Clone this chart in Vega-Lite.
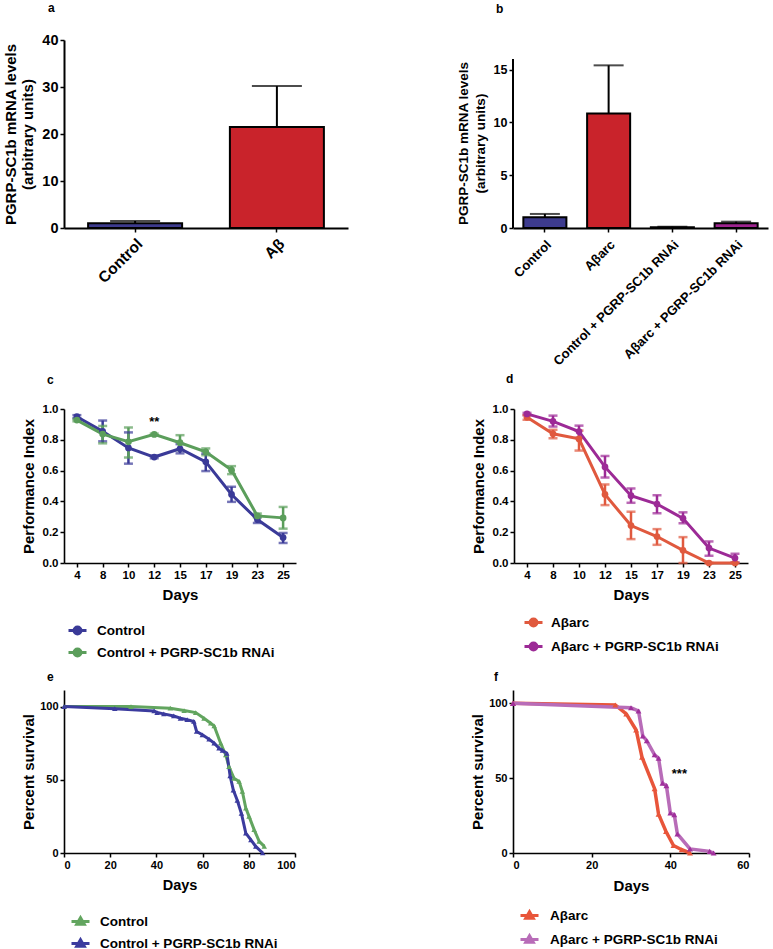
{
  "$schema": "https://vega.github.io/schema/vega-lite/v6.json",
  "autosize": {"type": "none"},
  "padding": {"left": 64, "top": 40, "right": 709, "bottom": 909},
  "background": "white",
  "config": {
    "view": {"stroke": null},
    "font": "Liberation Sans",
    "axis": {"domainColor": "#000", "domainWidth": 1.6, "tickColor": "#000", "tickWidth": 1.5, "tickSize": 4, "labelColor": "#000", "labelFont": "Liberation Sans", "labelFontWeight": "bold", "labelPadding": 2, "labelOverlap": false, "labelBound": false, "titleColor": "#000", "titleFont": "Liberation Sans", "titleFontWeight": "bold", "grid": false},
    "title": {"font": "Liberation Sans", "fontWeight": "bold", "fontSize": 12, "anchor": "start", "frame": "group", "color": "#000"}
  },
  "bounds": "flush",
  "spacing": 369,
  "resolve": {"scale": {"color": "independent", "stroke": "independent", "fill": "independent"}, "legend": {"color": "independent", "stroke": "independent", "fill": "independent"}},
  "vconcat": [
    {
      "hconcat": [
        {
          "width": 284, "height": 188,
          "title": {"text": "a", "dx": -16, "offset": 17},
          "data": {"values": [
            {"group": "Control", "mean": 1.0, "upper": 1.5},
            {"group": "Aβ", "mean": 21.5, "upper": 30.2}
          ]},
          "layer": [
            {"mark": {"type": "bar", "stroke": "#000", "strokeWidth": 2},
             "encoding": {
               "x": {"field": "group", "type": "nominal", "sort": null, "title": null, "scale": {"domain": ["Control", "Aβ"], "paddingInner": 0.337, "paddingOuter": 0.17}, "axis": {"labelAngle": -45, "labelFontSize": 15.5, "labelPadding": 4, "domainWidth": 2}},
               "y": {"field": "mean", "type": "quantitative", "scale": {"domain": [0, 40], "nice": false}, "axis": {"values": [0, 10, 20, 30, 40], "tickCount": 10, "title": ["PGRP-SC1b mRNA levels", "(arbitrary units)"], "titleFontSize": 15, "titleLineHeight": 17, "titlePadding": 6, "labelFontSize": 14.5, "domainWidth": 2}},
               "color": {"field": "group", "type": "nominal", "scale": {"domain": ["Control", "Aβ"], "range": ["#3d3b8e", "#c9232b"]}, "legend": null}}},
            {"mark": {"type": "rule", "stroke": "#000", "strokeWidth": 2},
             "encoding": {"x": {"field": "group", "type": "nominal"}, "y": {"field": "mean", "type": "quantitative"}, "y2": {"field": "upper"}}},
            {"mark": {"type": "tick", "color": "#000", "size": 50, "thickness": 2},
             "encoding": {"x": {"field": "group", "type": "nominal"}, "y": {"field": "upper", "type": "quantitative"}}}
          ]
        },
        {
          "width": 255, "height": 188,
          "title": {"text": "b", "dx": -17, "offset": 24},
          "data": {"values": [
            {"group": "Control", "mean": 1.01, "upper": 1.33},
            {"group": "Aβarc", "mean": 10.83, "upper": 15.4},
            {"group": "Control + PGRP-SC1b RNAi", "mean": 0.08, "upper": 0.12},
            {"group": "Aβarc + PGRP-SC1b RNAi", "mean": 0.45, "upper": 0.6}
          ]},
          "resolve": {"scale": {"x": "independent"}, "axis": {"x": "independent"}},
          "layer": [
            {"mark": {"type": "bar", "stroke": "#000", "strokeWidth": 2},
             "encoding": {
               "x": {"field": "group", "type": "nominal", "title": null, "scale": {"domain": ["Control", "Aβarc", "Control + PGRP-SC1b RNAi", "Aβarc + PGRP-SC1b RNAi"], "paddingInner": 0.325, "paddingOuter": 0.1625}, "axis": {"labelAngle": -45, "labelFontSize": 13, "labelPadding": 6, "domainWidth": 2, "labelLimit": 300}},
               "y": {"field": "mean", "type": "quantitative", "scale": {"domain": [0, 17.8], "nice": false}, "axis": {"values": [0, 5, 10, 15], "tickCount": 10, "domain": false, "title": ["PGRP-SC1b mRNA levels", "(arbitrary units)"], "titleY": 103, "titleFontSize": 13.5, "titleLineHeight": 17, "titlePadding": 6, "labelFontSize": 12.5}},
               "color": {"field": "group", "type": "nominal", "scale": {"domain": ["Control", "Aβarc", "Control + PGRP-SC1b RNAi", "Aβarc + PGRP-SC1b RNAi"], "range": ["#3d3b8e", "#c9232b", "#3d3b8e", "#9e248f"]}, "legend": null}}},
            {"mark": {"type": "rule", "stroke": "#000", "strokeWidth": 2},
             "encoding": {"x": {"field": "group", "type": "nominal", "scale": {"domain": ["Control", "Aβarc", "Control + PGRP-SC1b RNAi", "Aβarc + PGRP-SC1b RNAi"], "paddingInner": 0.325, "paddingOuter": 0.1625}, "axis": null}, "y": {"field": "mean", "type": "quantitative"}, "y2": {"field": "upper"}}},
            {"mark": {"type": "tick", "color": "#000", "size": 30, "thickness": 2},
             "encoding": {"x": {"field": "group", "type": "nominal", "scale": {"domain": ["Control", "Aβarc", "Control + PGRP-SC1b RNAi", "Aβarc + PGRP-SC1b RNAi"], "paddingInner": 0.325, "paddingOuter": 0.1625}, "axis": null}, "y": {"field": "upper", "type": "quantitative"}}},
            {"data": {"values": [{"lo": 0, "hi": 16}]},
             "mark": {"type": "rule", "stroke": "#000", "strokeWidth": 2},
             "encoding": {"x": {"datum": 0, "type": "quantitative", "scale": {"domain": [0, 1]}, "axis": null}, "y": {"field": "lo", "type": "quantitative"}, "y2": {"field": "hi"}}}
          ]
        }
      ],
      "spacing": 165,
      "bounds": "flush",
      "resolve": {"scale": {"color": "independent"}, "legend": {"color": "independent"}}
    },
    {
      "vconcat": [
        {
          "hconcat": [
            {
              "width": 232, "height": 154,
              "title": {"text": "c", "dx": -17, "offset": 16},
              "data": {"values": [
                {"day": "4", "group": "Control", "pi": 0.95, "lo": 0.94, "hi": 0.96},
                {"day": "8", "group": "Control", "pi": 0.855, "lo": 0.79, "hi": 0.925},
                {"day": "10", "group": "Control", "pi": 0.747, "lo": 0.645, "hi": 0.848},
                {"day": "12", "group": "Control", "pi": 0.688, "lo": 0.68, "hi": 0.696},
                {"day": "15", "group": "Control", "pi": 0.742, "lo": 0.712, "hi": 0.772},
                {"day": "17", "group": "Control", "pi": 0.657, "lo": 0.597, "hi": 0.711},
                {"day": "19", "group": "Control", "pi": 0.445, "lo": 0.397, "hi": 0.495},
                {"day": "23", "group": "Control", "pi": 0.282, "lo": 0.26, "hi": 0.304},
                {"day": "25", "group": "Control", "pi": 0.165, "lo": 0.13, "hi": 0.195},
                {"day": "4", "group": "Control + PGRP-SC1b RNAi", "pi": 0.928, "lo": 0.92, "hi": 0.935},
                {"day": "8", "group": "Control + PGRP-SC1b RNAi", "pi": 0.837, "lo": 0.777, "hi": 0.89},
                {"day": "10", "group": "Control + PGRP-SC1b RNAi", "pi": 0.787, "lo": 0.685, "hi": 0.88},
                {"day": "12", "group": "Control + PGRP-SC1b RNAi", "pi": 0.835, "lo": 0.83, "hi": 0.84},
                {"day": "15", "group": "Control + PGRP-SC1b RNAi", "pi": 0.781, "lo": 0.733, "hi": 0.83},
                {"day": "17", "group": "Control + PGRP-SC1b RNAi", "pi": 0.722, "lo": 0.7, "hi": 0.744},
                {"day": "19", "group": "Control + PGRP-SC1b RNAi", "pi": 0.603, "lo": 0.577, "hi": 0.629},
                {"day": "23", "group": "Control + PGRP-SC1b RNAi", "pi": 0.306, "lo": 0.295, "hi": 0.321},
                {"day": "25", "group": "Control + PGRP-SC1b RNAi", "pi": 0.293, "lo": 0.223, "hi": 0.364}
              ]},
              "encoding": {
                "x": {"field": "day", "type": "ordinal", "sort": null, "scale": {"type": "point", "padding": 0.5, "domain": ["4", "8", "10", "12", "15", "17", "19", "23", "25"]}, "axis": {"labelAngle": 0, "title": "Days", "titleFontSize": 15, "titlePadding": 7, "labelFontSize": 11.5}}
              },
              "layer": [
                {"mark": {"type": "rule", "strokeWidth": 2.5},
                 "encoding": {
                   "y": {"field": "lo", "type": "quantitative", "scale": {"domain": [0, 1], "nice": false}, "axis": {"values": [0, 0.2, 0.4, 0.6, 0.8, 1.0], "tickCount": 10, "format": ".1f", "labelOverlap": false, "title": "Performance Index", "titleFontSize": 15, "titlePadding": 6, "labelFontSize": 11.5}},
                   "y2": {"field": "hi"},
                   "color": {"field": "group", "type": "nominal", "scale": {"domain": ["Control", "Control + PGRP-SC1b RNAi"], "range": ["#3a3a98", "#5b9e5b"]},
                     "legend": {"orient": "none", "legendX": 3, "legendY": 211, "title": null, "direction": "vertical", "symbolType": "M-1,0H1M-0.38,0A0.38,0.38,0,1,1,0.38,0A0.38,0.38,0,1,1,-0.38,0Z", "symbolSize": 324, "symbolStrokeWidth": 3, "labelFont": "Liberation Sans", "labelFontSize": 13.5, "labelFontWeight": "bold", "labelColor": "#000", "labelOffset": 9, "rowPadding": 2, "padding": 0, "labelLimit": 400,
                       "encode": {"symbols": {"update": {"fill": [{"test": "datum.value === 'Control'", "value": "#3a3a98"}, {"value": "#5b9e5b"}], "stroke": [{"test": "datum.value === 'Control'", "value": "#3a3a98"}, {"value": "#5b9e5b"}], "strokeWidth": {"value": 3}, "opacity": {"value": 1}}}}}}}},
                {"mark": {"type": "tick", "size": 9, "thickness": 2.5},
                 "encoding": {"y": {"field": "lo", "type": "quantitative"}, "color": {"field": "group", "type": "nominal"}}},
                {"mark": {"type": "tick", "size": 9, "thickness": 2.5},
                 "encoding": {"y": {"field": "hi", "type": "quantitative"}, "color": {"field": "group", "type": "nominal"}}},
                {"mark": {"type": "line", "strokeWidth": 3},
                 "encoding": {"y": {"field": "pi", "type": "quantitative"}, "color": {"field": "group", "type": "nominal"}}},
                {"mark": {"type": "point", "shape": "circle", "filled": true, "size": 45, "opacity": 1},
                 "encoding": {"y": {"field": "pi", "type": "quantitative"}, "color": {"field": "group", "type": "nominal"}}},
                {"data": {"values": [{"day": "12", "pi": 0.913, "label": "**"}]},
                 "mark": {"type": "text", "fontSize": 13, "fontWeight": "bold", "color": "#000"},
                 "encoding": {"y": {"field": "pi", "type": "quantitative"}, "text": {"field": "label"}}}
              ]
            },
            {
              "width": 234, "height": 154,
              "title": {"text": "d", "dx": -8, "offset": 17},
              "data": {"values": [
                {"day": "4", "group": "Aβarc", "pi": 0.946, "lo": 0.93, "hi": 0.96},
                {"day": "8", "group": "Aβarc", "pi": 0.839, "lo": 0.81, "hi": 0.865},
                {"day": "10", "group": "Aβarc", "pi": 0.806, "lo": 0.73, "hi": 0.86},
                {"day": "12", "group": "Aβarc", "pi": 0.445, "lo": 0.376, "hi": 0.51},
                {"day": "15", "group": "Aβarc", "pi": 0.243, "lo": 0.155, "hi": 0.333},
                {"day": "17", "group": "Aβarc", "pi": 0.172, "lo": 0.118, "hi": 0.22},
                {"day": "19", "group": "Aβarc", "pi": 0.082, "lo": 0.0, "hi": 0.168},
                {"day": "23", "group": "Aβarc", "pi": 0.0, "lo": 0.0, "hi": 0.0},
                {"day": "25", "group": "Aβarc", "pi": 0.0, "lo": 0.0, "hi": 0.0},
                {"day": "4", "group": "Aβarc + PGRP-SC1b RNAi", "pi": 0.968, "lo": 0.96, "hi": 0.975},
                {"day": "8", "group": "Aβarc + PGRP-SC1b RNAi", "pi": 0.92, "lo": 0.886, "hi": 0.957},
                {"day": "10", "group": "Aβarc + PGRP-SC1b RNAi", "pi": 0.854, "lo": 0.813, "hi": 0.892},
                {"day": "12", "group": "Aβarc + PGRP-SC1b RNAi", "pi": 0.624, "lo": 0.555, "hi": 0.695},
                {"day": "15", "group": "Aβarc + PGRP-SC1b RNAi", "pi": 0.437, "lo": 0.391, "hi": 0.484},
                {"day": "17", "group": "Aβarc + PGRP-SC1b RNAi", "pi": 0.383, "lo": 0.323, "hi": 0.44},
                {"day": "19", "group": "Aβarc + PGRP-SC1b RNAi", "pi": 0.29, "lo": 0.258, "hi": 0.329},
                {"day": "23", "group": "Aβarc + PGRP-SC1b RNAi", "pi": 0.097, "lo": 0.047, "hi": 0.14},
                {"day": "25", "group": "Aβarc + PGRP-SC1b RNAi", "pi": 0.032, "lo": 0.004, "hi": 0.06}
              ]},
              "encoding": {
                "x": {"field": "day", "type": "ordinal", "sort": null, "scale": {"type": "point", "padding": 0.5, "domain": ["4", "8", "10", "12", "15", "17", "19", "23", "25"]}, "axis": {"labelAngle": 0, "title": "Days", "titleFontSize": 15, "titlePadding": 7, "labelFontSize": 11.5}}
              },
              "layer": [
                {"mark": {"type": "rule", "strokeWidth": 2.5},
                 "encoding": {
                   "y": {"field": "lo", "type": "quantitative", "scale": {"domain": [0, 1], "nice": false}, "axis": {"values": [0, 0.2, 0.4, 0.6, 0.8, 1.0], "tickCount": 10, "format": ".1f", "labelOverlap": false, "title": "Performance Index", "titleFontSize": 15, "titlePadding": 6, "labelFontSize": 11.5}},
                   "y2": {"field": "hi"},
                   "color": {"field": "group", "type": "nominal", "scale": {"domain": ["Aβarc", "Aβarc + PGRP-SC1b RNAi"], "range": ["#e0593e", "#9c2a96"]},
                     "legend": {"orient": "none", "legendX": 9, "legendY": 203, "title": null, "direction": "vertical", "symbolType": "M-1,0H1M-0.38,0A0.38,0.38,0,1,1,0.38,0A0.38,0.38,0,1,1,-0.38,0Z", "symbolSize": 324, "symbolStrokeWidth": 3, "labelFont": "Liberation Sans", "labelFontSize": 13.5, "labelFontWeight": "bold", "labelColor": "#000", "labelOffset": 7, "rowPadding": 4, "padding": 0, "labelLimit": 400,
                       "encode": {"symbols": {"update": {"fill": [{"test": "datum.value === 'Aβarc'", "value": "#e0593e"}, {"value": "#9c2a96"}], "stroke": [{"test": "datum.value === 'Aβarc'", "value": "#e0593e"}, {"value": "#9c2a96"}], "strokeWidth": {"value": 3}, "opacity": {"value": 1}}}}}}}},
                {"mark": {"type": "tick", "size": 9, "thickness": 2.5},
                 "encoding": {"y": {"field": "lo", "type": "quantitative"}, "color": {"field": "group", "type": "nominal"}}},
                {"mark": {"type": "tick", "size": 9, "thickness": 2.5},
                 "encoding": {"y": {"field": "hi", "type": "quantitative"}, "color": {"field": "group", "type": "nominal"}}},
                {"mark": {"type": "line", "strokeWidth": 3},
                 "encoding": {"y": {"field": "pi", "type": "quantitative"}, "color": {"field": "group", "type": "nominal"}}},
                {"mark": {"type": "point", "shape": "circle", "filled": true, "size": 45, "opacity": 1},
                 "encoding": {"y": {"field": "pi", "type": "quantitative"}, "color": {"field": "group", "type": "nominal"}}}
              ]
            }
          ],
          "spacing": 218,
          "bounds": "flush",
          "resolve": {"scale": {"color": "independent"}, "legend": {"color": "independent"}}
        },
        {
          "hconcat": [
            {
              "width": 231, "height": 163,
              "title": {"text": "e", "dx": -17, "offset": 6},
              "data": {"values": [
                {"day": 0, "group": "Control", "pct": 100},
                {"day": 29, "group": "Control", "pct": 100},
                {"day": 46, "group": "Control", "pct": 98.9},
                {"day": 52, "group": "Control", "pct": 97.3},
                {"day": 57, "group": "Control", "pct": 95.9},
                {"day": 60.6, "group": "Control", "pct": 92},
                {"day": 63.5, "group": "Control", "pct": 88.6},
                {"day": 65, "group": "Control", "pct": 86.8},
                {"day": 67.8, "group": "Control", "pct": 75},
                {"day": 70, "group": "Control", "pct": 67},
                {"day": 71.4, "group": "Control", "pct": 59},
                {"day": 73.6, "group": "Control", "pct": 51},
                {"day": 75.8, "group": "Control", "pct": 48.9},
                {"day": 77.2, "group": "Control", "pct": 42},
                {"day": 78.7, "group": "Control", "pct": 30.7},
                {"day": 80.1, "group": "Control", "pct": 25},
                {"day": 82.3, "group": "Control", "pct": 16},
                {"day": 84.5, "group": "Control", "pct": 8},
                {"day": 86.7, "group": "Control", "pct": 4.5},
                {"day": 0, "group": "Control + PGRP-SC1b RNAi", "pct": 100},
                {"day": 22, "group": "Control + PGRP-SC1b RNAi", "pct": 98.5},
                {"day": 39, "group": "Control + PGRP-SC1b RNAi", "pct": 97},
                {"day": 40.3, "group": "Control + PGRP-SC1b RNAi", "pct": 95.9},
                {"day": 43.2, "group": "Control + PGRP-SC1b RNAi", "pct": 95},
                {"day": 47.5, "group": "Control + PGRP-SC1b RNAi", "pct": 93.6},
                {"day": 50.4, "group": "Control + PGRP-SC1b RNAi", "pct": 92},
                {"day": 53.3, "group": "Control + PGRP-SC1b RNAi", "pct": 91},
                {"day": 56.2, "group": "Control + PGRP-SC1b RNAi", "pct": 89.8},
                {"day": 57.4, "group": "Control + PGRP-SC1b RNAi", "pct": 83},
                {"day": 59.9, "group": "Control + PGRP-SC1b RNAi", "pct": 80.7},
                {"day": 62.8, "group": "Control + PGRP-SC1b RNAi", "pct": 77.7},
                {"day": 65, "group": "Control + PGRP-SC1b RNAi", "pct": 75},
                {"day": 67.1, "group": "Control + PGRP-SC1b RNAi", "pct": 71.6},
                {"day": 68.6, "group": "Control + PGRP-SC1b RNAi", "pct": 70},
                {"day": 70.5, "group": "Control + PGRP-SC1b RNAi", "pct": 68},
                {"day": 71.9, "group": "Control + PGRP-SC1b RNAi", "pct": 52.7},
                {"day": 73.3, "group": "Control + PGRP-SC1b RNAi", "pct": 43},
                {"day": 75, "group": "Control + PGRP-SC1b RNAi", "pct": 36},
                {"day": 76.8, "group": "Control + PGRP-SC1b RNAi", "pct": 27},
                {"day": 78.7, "group": "Control + PGRP-SC1b RNAi", "pct": 13.6},
                {"day": 80.9, "group": "Control + PGRP-SC1b RNAi", "pct": 9},
                {"day": 83, "group": "Control + PGRP-SC1b RNAi", "pct": 4.5},
                {"day": 86, "group": "Control + PGRP-SC1b RNAi", "pct": 0}
              ]},
              "encoding": {
                "x": {"field": "day", "type": "quantitative", "scale": {"domain": [0, 100], "nice": false}, "axis": {"values": [0, 20, 40, 60, 80, 100], "tickCount": 10, "title": "Days", "titleFontSize": 14.5, "titlePadding": 8, "labelFontSize": 11}},
                "y": {"field": "pct", "type": "quantitative", "scale": {"domain": [0, 111.3], "nice": false}, "axis": {"values": [0, 50, 100], "tickCount": 10, "title": "Percent survival", "titleFontSize": 15, "titlePadding": 3, "labelFontSize": 11}}
              },
              "layer": [
                {"mark": {"type": "line", "strokeWidth": 3},
                 "encoding": {"color": {"field": "group", "type": "nominal", "scale": {"domain": ["Control", "Control + PGRP-SC1b RNAi"], "range": ["#62a55f", "#3b3b9e"]}, "legend": {"orient": "none", "legendX": 6, "legendY": 221, "title": null, "direction": "vertical", "symbolType": "M-1,0H1M0,-0.42L0.42,0.3L-0.42,0.3Z", "symbolSize": 324, "symbolStrokeWidth": 3, "labelFont": "Liberation Sans", "labelFontSize": 13.5, "labelFontWeight": "bold", "labelColor": "#000", "labelOffset": 9, "rowPadding": 2, "padding": 0, "labelLimit": 400,
                   "encode": {"symbols": {"update": {"fill": [{"test": "datum.value === 'Control'", "value": "#62a55f"}, {"value": "#3b3b9e"}], "stroke": [{"test": "datum.value === 'Control'", "value": "#62a55f"}, {"value": "#3b3b9e"}], "strokeWidth": {"value": 3}, "opacity": {"value": 1}}}}}}}},
                {"mark": {"type": "point", "shape": "triangle-up", "filled": true, "size": 30, "opacity": 1},
                 "encoding": {"color": {"field": "group", "type": "nominal", "legend": null}}}
              ]
            },
            {
              "width": 236, "height": 163,
              "title": {"text": "f", "dx": -19, "offset": 6},
              "data": {"values": [
                {"day": 0, "group": "Aβarc", "pct": 100},
                {"day": 26, "group": "Aβarc", "pct": 98.9},
                {"day": 28.8, "group": "Aβarc", "pct": 92.9},
                {"day": 31.3, "group": "Aβarc", "pct": 82.2},
                {"day": 32.8, "group": "Aβarc", "pct": 64},
                {"day": 36, "group": "Aβarc", "pct": 43},
                {"day": 37, "group": "Aβarc", "pct": 26},
                {"day": 38.9, "group": "Aβarc", "pct": 14.4},
                {"day": 40.8, "group": "Aβarc", "pct": 5},
                {"day": 42.9, "group": "Aβarc", "pct": 2.2},
                {"day": 45, "group": "Aβarc", "pct": 0},
                {"day": 0, "group": "Aβarc + PGRP-SC1b RNAi", "pct": 100},
                {"day": 30, "group": "Aβarc + PGRP-SC1b RNAi", "pct": 97},
                {"day": 31.9, "group": "Aβarc + PGRP-SC1b RNAi", "pct": 94.9},
                {"day": 33, "group": "Aβarc + PGRP-SC1b RNAi", "pct": 78.2},
                {"day": 34, "group": "Aβarc + PGRP-SC1b RNAi", "pct": 75},
                {"day": 36, "group": "Aβarc + PGRP-SC1b RNAi", "pct": 65.6},
                {"day": 37, "group": "Aβarc + PGRP-SC1b RNAi", "pct": 63.3},
                {"day": 38, "group": "Aβarc + PGRP-SC1b RNAi", "pct": 46.7},
                {"day": 39, "group": "Aβarc + PGRP-SC1b RNAi", "pct": 45},
                {"day": 40, "group": "Aβarc + PGRP-SC1b RNAi", "pct": 26.7},
                {"day": 41, "group": "Aβarc + PGRP-SC1b RNAi", "pct": 25.6},
                {"day": 41.8, "group": "Aβarc + PGRP-SC1b RNAi", "pct": 12.7},
                {"day": 45, "group": "Aβarc + PGRP-SC1b RNAi", "pct": 2.7},
                {"day": 50, "group": "Aβarc + PGRP-SC1b RNAi", "pct": 1.1},
                {"day": 51, "group": "Aβarc + PGRP-SC1b RNAi", "pct": 0}
              ]},
              "encoding": {
                "x": {"field": "day", "type": "quantitative", "scale": {"domain": [0, 60], "nice": false}, "axis": {"values": [0, 20, 40, 60], "tickCount": 10, "title": "Days", "titleFontSize": 15, "titlePadding": 8, "labelFontSize": 11}},
                "y": {"field": "pct", "type": "quantitative", "scale": {"domain": [0, 108.9], "nice": false}, "axis": {"values": [0, 50, 100], "tickCount": 10, "title": "Percent survival", "titleFontSize": 15, "titlePadding": 3, "labelFontSize": 11}}
              },
              "resolve": {"scale": {"stroke": "independent", "fill": "independent"}},
              "layer": [
                {"mark": {"type": "line", "strokeWidth": 3.5},
                 "encoding": {"stroke": {"field": "group", "type": "nominal", "scale": {"domain": ["Aβarc", "Aβarc + PGRP-SC1b RNAi"], "range": ["#e8553a", "#b86cb8"]}, "legend": {"orient": "none", "legendX": 6, "legendY": 215, "title": null, "direction": "vertical", "symbolType": "M-1,0H1M0,-0.42L0.42,0.3L-0.42,0.3Z", "symbolSize": 324, "symbolStrokeWidth": 3, "labelFont": "Liberation Sans", "labelFontSize": 13.5, "labelFontWeight": "bold", "labelColor": "#000", "labelOffset": 10, "rowPadding": 4, "padding": 0, "labelLimit": 400,
                   "encode": {"symbols": {"update": {"fill": [{"test": "datum.value === 'Aβarc'", "value": "#e8553a"}, {"value": "#a0309c"}], "stroke": [{"test": "datum.value === 'Aβarc'", "value": "#e8553a"}, {"value": "#b86cb8"}], "strokeWidth": {"value": 3}, "opacity": {"value": 1}}}}}}}},
                {"mark": {"type": "point", "shape": "triangle-up", "filled": true, "size": 35, "opacity": 1},
                 "encoding": {"fill": {"field": "group", "type": "nominal", "scale": {"domain": ["Aβarc", "Aβarc + PGRP-SC1b RNAi"], "range": ["#e8553a", "#a0309c"]}, "legend": null}}},
                {"data": {"values": [{"day": 42.3, "pct": 52.5, "label": "***"}]},
                 "mark": {"type": "text", "fontSize": 13, "fontWeight": "bold", "color": "#000"},
                 "encoding": {"text": {"field": "label"}}}
              ]
            }
          ],
          "spacing": 218,
          "bounds": "flush",
          "resolve": {"scale": {"color": "independent", "stroke": "independent", "fill": "independent"}, "legend": {"color": "independent", "stroke": "independent", "fill": "independent"}}
        }
      ],
      "spacing": 281,
      "bounds": "flush",
      "resolve": {"scale": {"color": "independent", "stroke": "independent", "fill": "independent"}, "legend": {"color": "independent", "stroke": "independent", "fill": "independent"}}
    }
  ]
}
